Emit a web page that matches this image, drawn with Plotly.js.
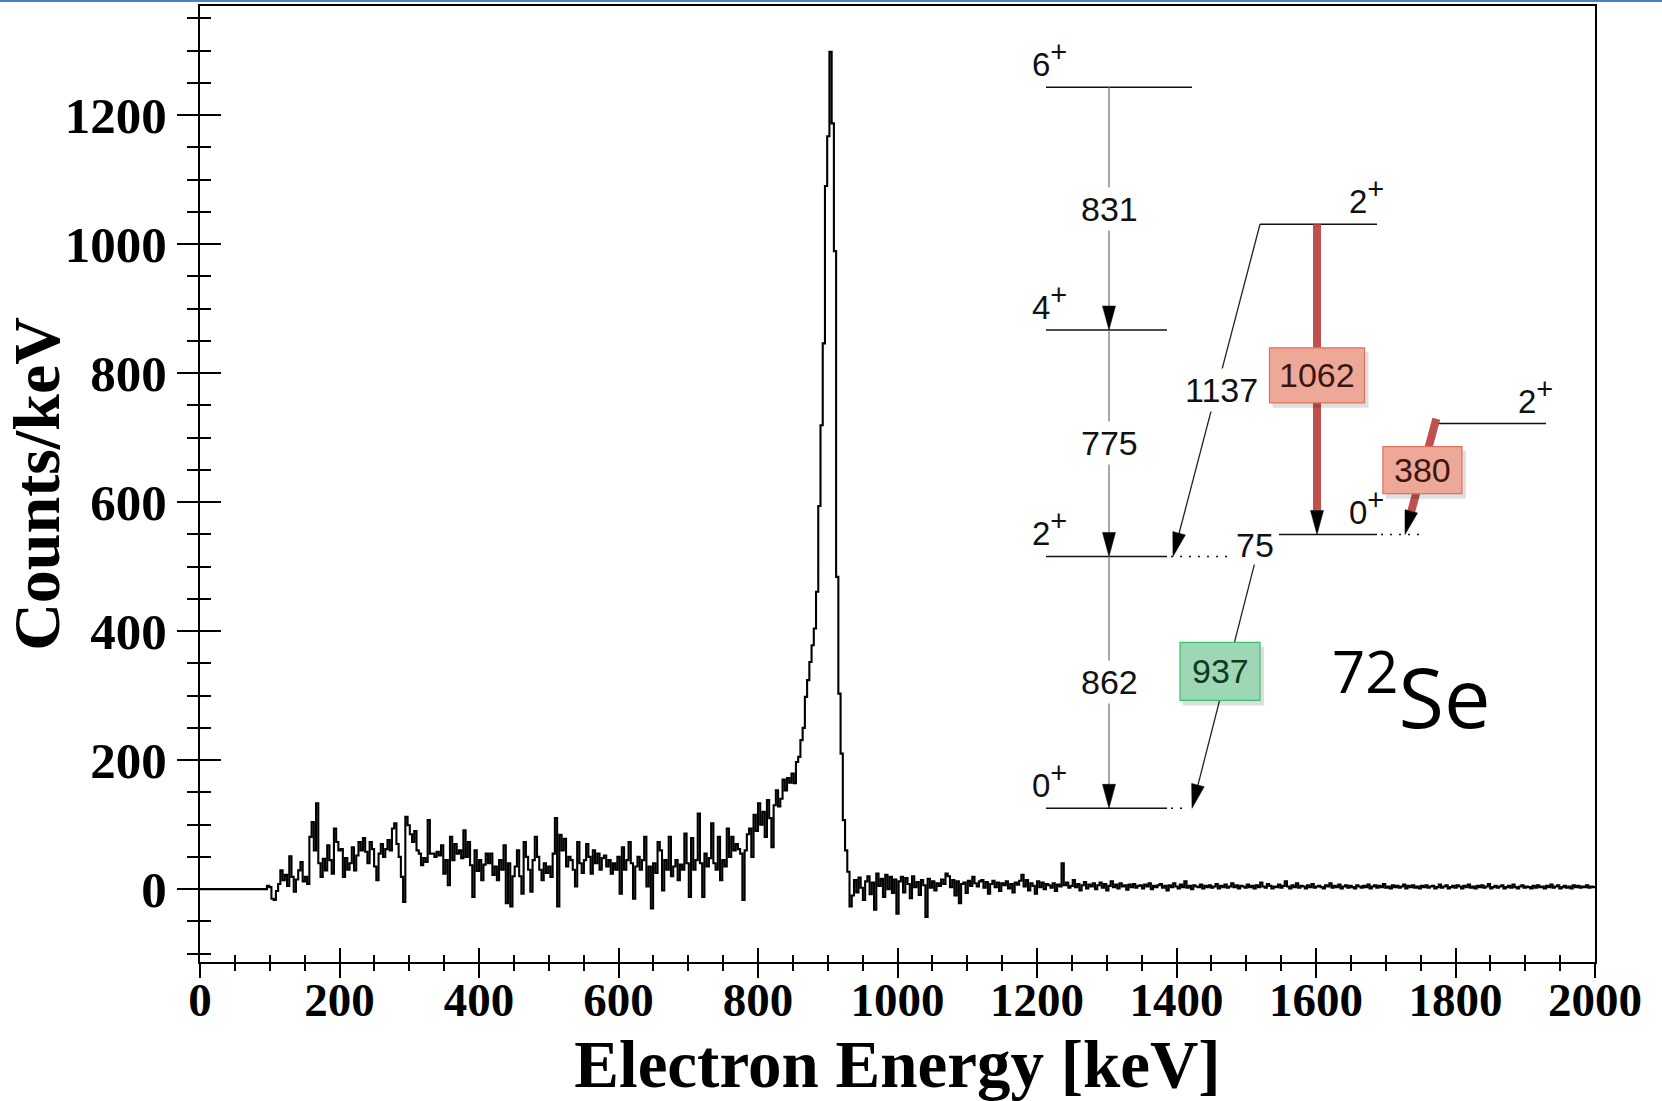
<!DOCTYPE html>
<html>
<head>
<meta charset="utf-8">
<script src="https://cdn.plot.ly/plotly-3.0.1.min.js"></script>
<style>
  html, body { margin: 0; padding: 0; background: #ffffff; }
  #chart { width: 1662px; height: 1101px; }
  #topline { position: absolute; left: 0; top: 0; width: 1662px; height: 2px; background: #4f81bd; z-index: 10; }
</style>
</head>
<body>
<div id="topline"></div>
<div id="chart"></div>
<script>
// ---------------- DATA ----------------
// Histogram: bin width in keV, counts per bin (Counts/keV)
const binWidth = 3.2;

// 0 - 96 keV (below threshold)
const countsBelowThreshold = [0,0,0,0,0,0,0,0,0,0,0,0,0,0,0,0,0,0,0,0,0,0,0,0,0,0,0,0,0,0];

// 96 - 784 keV
const countsPlateau = [
  5, 3, -15, -17, -3, 8, 29, 14, 22, 5,
  51, 19, -4, 15, 29, 42, 12, 19, 8, 81,
  104, 60, 133, 40, 19, 47, 29, 68, 45, 24,
  94, 73, 60, 62, 19, 48, 30, 40, 65, 29,
  52, 73, 60, 79, 58, 40, 73, 62, 35, 14,
  55, 70, 50, 62, 76, 60, 94, 102, 70, 50,
  19, -20, 112, 99, 85, 73, 90, 60, 55, 37,
  48, 42, 107, 55, 55, 50, 58, 52, 68, 24,
  45, 6, 81, 45, 70, 55, 60, 48, 91, 50,
  73, 37, -12, 60, 28, 45, 14, 38, 55, 40,
  55, 22, 35, 14, 45, 30, 68, -22, 40, -27,
  20, 35, 60, 20, -7, 73, 50, 30, -4, 45,
  81, 50, 30, 14, 40, 25, 35, 19, 55, 110,
  -27, 84, 60, 78, 35, 50, 45, 30, 4, 73,
  40, 25, 45, 70, 50, 24, 60, 40, 55, 30,
  48, 52, 35, 45, 24, 40, 30, 50, -7, 65,
  30, 45, 73, 40, -15, 35, 50, 30, 45, 81,
  4, 35, -30, 40, 25, 73, 60, -2, 45, 30,
  81, 20, 35, 45, 14, 38, 30, 86, 40, -12,
  79, 30, 45, 117, 40, -12, 55, 35, 48, 102,
  40, 30, 81, 14, 45, 35, 94, 50, 81, 60,
  70, 62, 55, -17, 60
];

// 784 - 934.4 keV (rise and main peak)
const countsPeak = [
  85, 94, 50, 115, 90, 133, 100, 120, 81, 138,
  110, 65, 130, 153, 128, 140, 170, 153, 172, 165,
  179, 164, 197, 205, 231, 250, 298, 324, 352, 378,
  404, 461, 594, 719, 846, 1090, 1167, 1298, 1187, 989,
  484, 303, 210, 107, 60, 27, -27
];

// 934.4 - 2000 keV
const countsTail = [
  -10, 14, -5, 18, 2, -17, 12, 20, -8, 10,
  -32, 24, 5, 16, -12, 22, 0, 19, -6, 15,
  -38, 12, 19, -5, 17, 8, -14, 20, 3, 11,
  -9, 14, 6, -43, 16, 2, 12, -2, 9, 5,
  15, 8, 24, 20, 3, 14, -10, 12, -22, 8,
  10, -6, 13, 5, 19, 9, 4, 12, 14, 2,
  11, -7, 8, 13, 3, 10, -3, 9, 6, 12,
  1, 8, -5, 10, 7, 13, 22, 4, 14, -2,
  9, 5, -7, 12, 3, 10, 0, 8, 6, 2,
  9, -3, 7, 4, 40, 6, 10, 2, 5, 14,
  3, 8, -2, 6, 11, 1, 7, 4, 9, 0,
  6, 10, 2, 8, -2, 5, 12, 3, 7, 1,
  9, 4, 6, -1, 7, 3, 8, 2, 5, 6,
  1, 7, 4, 9, 0, 5, 3, 6, 8, 2,
  5, -2, 6, 3, 9, 4, 1, 7, 3, 12,
  2, 5, 0, 6, 4, 3, 7, 1, 5, 3,
  6, 2, 4, 8, 1, 5, 3, 7, 2, 4,
  9, 3, 6, 1, 5, 4, 2, 7, 3, 5,
  1, 6, 3, 10, 4, 2, 8, 5, 1, 4,
  3, 7, 2, 5, 12, 4, 1, 6, 3, 9,
  2, 5, 4, 1, 6, 3, 8, 2, 4, 5,
  3, 1, 6, 4, 9, 2, 5, 3, 7, 1,
  4, 6, 2, 5, 3, 1, 6, 4, 2, 5,
  3, 7, 1, 4, 6, 2, 5, 3, 8, 2,
  4, 1, 6, 3, 5, 2, 4, 7, 1, 5,
  3, 6, 2, 4, 1, 5, 3, 6, 2, 4,
  5, 1, 3, 7, 2, 4, 6, 1, 3, 5,
  2, 6, 4, 1, 5, 3, 7, 2, 4, 1,
  5, 3, 6, 2, 4, 8, 1, 3, 5, 2,
  4, 6, 1, 3, 5, 2, 7, 3, 1, 4,
  6, 2, 4, 3, 1, 5, 2, 6, 3, 4,
  1, 5, 3, 7, 2, 4, 6, 1, 3, 5,
  2, 4, 1, 6, 3, 5, 2, 4, 3, 6,
  2, 4, 3
];

// Axis tick values
const xTickVals = [0, 200, 400, 600, 800, 1000, 1200, 1400, 1600, 1800, 2000];
const yTickVals = [0, 200, 400, 600, 800, 1000, 1200];

// Level scheme of 72Se (keV)
const levelSpin   = ['0', '2', '4', '6', '0', '2', '2'];
const levelEnergy = [0, 862, 1637, 2468, 937, 1317, 1999];
const transFrom   = [3, 2, 1, 6, 6, 5, 4, 4];
const transTo     = [2, 1, 0, 1, 4, 4, 0, 1];
const transLabel  = ['831', '775', '862', '1137', '1062', '380', '937', '75'];
const nucleusMass = '72';
const nucleusSymbol = 'Se';

// ---------------- BUILD HISTOGRAM ----------------
const counts = countsBelowThreshold.concat(countsPlateau, countsPeak, countsTail);
const xs = counts.map((c, i) => i * binWidth);
const ys = counts.slice();
xs.push(counts.length * binWidth);
ys.push(counts[counts.length - 1]);

// ---------------- LAYOUT GEOMETRY ----------------
const W = 1662, H = 1101;
const M = { l: 200, r: 67, t: 6, b: 139 };
const PLOT = { left: M.l, width: W - M.l - M.r, top: M.t, height: H - M.t - M.b };
const E_TOP = 2746, E_BOT = -526;          // diagram energy axis (y3)
const pxPerKeV = PLOT.height / (E_TOP - E_BOT);
const px2paper = px => (px - PLOT.left) / PLOT.width;
const pyOfE = E => PLOT.top + (E_TOP - E) * pxPerKeV;
const EofPy = py => E_TOP - (py - PLOT.top) / pxPerKeV;

// diagram placement (pixels) and styles
const levelGeom = [
  { x0: 1046, x1: 1167, dotFrom: 1171, dotTo: 1188, labX: 1030 },
  { x0: 1046, x1: 1167, dotFrom: 1171, dotTo: 1230, labX: 1030 },
  { x0: 1046, x1: 1167, labX: 1030 },
  { x0: 1046, x1: 1192, labX: 1030 },
  { x0: 1279, x1: 1377, dotFrom: 1381, dotTo: 1424, labX: 1347 },
  { x0: 1437, x1: 1546, labX: 1516 },
  { x0: 1260, x1: 1377, labX: 1347 }
];
const RED = '#C0504D';
const redBox = { fill: '#EEA898', line: '#E0705C', text: '#3d1510' };
const greenBox = { fill: '#9DD7B3', line: '#3DBE6C', text: '#0d3b20' };
const transGeom = [
  { xTop: 1109, xBot: 1109, kind: 'thin', color: '#777777', frac: 0.5 },
  { xTop: 1109, xBot: 1109, kind: 'thin', color: '#777777', frac: 0.5 },
  { xTop: 1109, xBot: 1109, kind: 'thin', color: '#777777', frac: 0.5 },
  { xTop: 1260, xBot: 1173, kind: 'thin', color: '#222222', frac: 0.5, labDx: 5 },
  { xTop: 1317, xBot: 1317, kind: 'thick', frac: 0.487, box: { w: 95, h: 55, s: redBox } },
  { xTop: 1435, xBot: 1405, kind: 'thick', frac: 0.42, over: 5, box: { w: 79, h: 47, s: redBox } },
  { xTop: 1262, xBot: 1192, kind: 'thin', color: '#222222', frac: 0.5, labDx: -7, box: { w: 80, h: 58, s: greenBox } },
  { kind: 'label', px: 1255, py: 545 }
];
const ARROW_LEN = 24, ARROW_HALF = 6.5;
const diagFont = { family: 'Liberation Sans, Arial, sans-serif', size: 34, color: '#111111' };

const shapes = [];
const annotations = [];

function P(x, y) { return px2paper(x).toFixed(5) + ',' + EofPy(y).toFixed(3); }
function lineShape(xa, ya, xb, yb, color, width, dash) {
  return { type: 'line', xref: 'paper', yref: 'y3',
    x0: px2paper(xa), y0: EofPy(ya), x1: px2paper(xb), y1: EofPy(yb),
    line: { color: color, width: width, dash: dash || 'solid' }, layer: 'above' };
}

// levels
levelEnergy.forEach((E, i) => {
  const g = levelGeom[i];
  const py = pyOfE(E);
  shapes.push(lineShape(g.x0, py, g.x1, py, '#111111', 1.6));
  if (g.dotTo) shapes.push(lineShape(g.dotFrom, py, g.dotTo, py, '#111111', 1.6, '2px,7px'));
  annotations.push({ xref: 'paper', yref: 'y3', x: px2paper(g.labX), y: E,
    xanchor: 'left', yanchor: 'bottom', yshift: 2, showarrow: false,
    text: levelSpin[i] + '<sup><span style="font-size:29px">+</span></sup>',
    font: { family: diagFont.family, size: 33, color: '#111111' } });
});

// transitions
const boxShapes = [];
transLabel.forEach((lab, t) => {
  const g = transGeom[t];
  const yTop = pyOfE(levelEnergy[transFrom[t]]);
  const yBot = pyOfE(levelEnergy[transTo[t]]);
  if (g.kind === 'label') {
    annotations.push({ xref: 'paper', yref: 'y3', x: px2paper(g.px), y: EofPy(g.py),
      xanchor: 'center', yanchor: 'middle',
      showarrow: false, text: lab, font: diagFont, bgcolor: '#ffffff', borderpad: 0 });
    return;
  }
  const dx = g.xBot - g.xTop, dy = yBot - yTop;
  const L = Math.sqrt(dx * dx + dy * dy);
  const ux = dx / L, uy = dy / L;
  const bx = g.xBot - ux * ARROW_LEN, by = yBot - uy * ARROW_LEN;
  if (g.kind === 'thick') {
    const over = g.over || 0;
    shapes.push(lineShape(g.xTop - ux * over, yTop - uy * over, bx, by, RED, 8));
  } else {
    shapes.push(lineShape(g.xTop, yTop, bx, by, g.color, 1.3));
  }
  // arrow head
  const px1 = bx - uy * ARROW_HALF, py1 = by + ux * ARROW_HALF;
  const px2 = bx + uy * ARROW_HALF, py2 = by - ux * ARROW_HALF;
  shapes.push({ type: 'path', xref: 'paper', yref: 'y3',
    path: 'M' + P(g.xBot, yBot) + 'L' + P(px1, py1) + 'L' + P(px2, py2) + 'Z',
    fillcolor: '#000000', line: { color: '#000000', width: 0.5 }, layer: 'above' });
  // label
  const cx = g.xTop + dx * g.frac + (g.labDx || 0), cy = yTop + dy * g.frac;
  if (g.box) {
    const b = g.box;
    boxShapes.push({ type: 'rect', xref: 'paper', yref: 'y3',
      x0: px2paper(cx - b.w / 2 + 3), x1: px2paper(cx + b.w / 2 + 4),
      y0: EofPy(cy - b.h / 2 + 4), y1: EofPy(cy + b.h / 2 + 5),
      fillcolor: 'rgba(0,0,0,0.13)', line: { width: 0 }, layer: 'above' });
    boxShapes.push({ type: 'rect', xref: 'paper', yref: 'y3',
      x0: px2paper(cx - b.w / 2), x1: px2paper(cx + b.w / 2),
      y0: EofPy(cy - b.h / 2), y1: EofPy(cy + b.h / 2),
      fillcolor: b.s.fill, line: { color: b.s.line, width: 1.2 }, layer: 'above' });
    annotations.push({ xref: 'paper', yref: 'y3', x: px2paper(cx), y: EofPy(cy),
      xanchor: 'center', yanchor: 'middle',
      showarrow: false, text: lab,
      font: { family: diagFont.family, size: 34, color: b.s.text } });
  } else {
    annotations.push({ xref: 'paper', yref: 'y3', x: px2paper(cx), y: EofPy(cy),
      xanchor: 'center', yanchor: 'middle',
      showarrow: false, text: lab, font: diagFont, bgcolor: '#ffffff', borderpad: 2 });
  }
});

// nucleus label
annotations.push({ xref: 'paper', yref: 'y3', x: px2paper(1330), y: EofPy(754),
  xanchor: 'left', yanchor: 'bottom', showarrow: false,
  text: '<sup>' + nucleusMass + '</sup>' + nucleusSymbol,
  font: { family: 'Open Sans, Noto Sans, sans-serif', size: 83, color: '#000000' } });

// ---------------- PLOT ----------------
const axisFont = { family: 'Liberation Serif, Times New Roman, serif', color: '#000000', weight: 'bold' };

const traces = [
  { type: 'scatter', mode: 'lines', x: xs, y: ys,
    line: { color: '#000000', width: 2.1, shape: 'hv', simplify: false },
    hoverinfo: 'x+y', showlegend: false },
  { type: 'scatter', mode: 'lines', x: [null], y: [null], xaxis: 'x2', yaxis: 'y2', showlegend: false, hoverinfo: 'skip' },
  { type: 'scatter', mode: 'lines', x: [null], y: [null], xaxis: 'x', yaxis: 'y3', showlegend: false, hoverinfo: 'skip' }
];

const xRange = [0, 2000];
const yRange = [-113, 1369];

const layout = {
  width: W, height: H,
  margin: M,
  paper_bgcolor: '#ffffff', plot_bgcolor: '#ffffff',
  showlegend: false,
  xaxis: {
    range: xRange, autorange: false,
    tickmode: 'array', tickvals: xTickVals, ticktext: xTickVals.map(String),
    ticks: 'outside', ticklen: 14, tickwidth: 2, tickcolor: '#000',
    minor: { ticks: 'outside', ticklen: 7, tickwidth: 2, dtick: 50, tick0: 0, tickcolor: '#000', showgrid: false },
    showline: true, linewidth: 2, linecolor: '#000', mirror: true,
    showgrid: false, zeroline: false,
    tickfont: Object.assign({ size: 47 }, axisFont),
    ticklabelstandoff: -18,
    title: { text: 'Electron Energy [keV]', font: Object.assign({ size: 67 }, axisFont), standoff: 28 },
    automargin: false
  },
  xaxis2: {
    overlaying: 'x', anchor: 'y', side: 'bottom',
    range: xRange, autorange: false,
    tickmode: 'array', tickvals: xTickVals,
    ticks: 'inside', ticklen: 14, tickwidth: 2, tickcolor: '#000',
    minor: { ticks: 'inside', ticklen: 7, tickwidth: 2, dtick: 50, tick0: 0, tickcolor: '#000', showgrid: false },
    showticklabels: false, showline: false, showgrid: false, zeroline: false
  },
  yaxis: {
    range: yRange, autorange: false,
    tickmode: 'array', tickvals: yTickVals, ticktext: yTickVals.map(String),
    ticks: 'outside', ticklen: 21, tickwidth: 2, tickcolor: '#000',
    minor: { ticks: 'outside', ticklen: 11, tickwidth: 2, dtick: 50, tick0: 0, tickcolor: '#000', showgrid: false },
    showline: true, linewidth: 2, linecolor: '#000', mirror: true,
    showgrid: false, zeroline: false,
    tickfont: Object.assign({ size: 51 }, axisFont),
    ticklabelstandoff: 0,
    title: { text: 'Counts/keV', font: Object.assign({ size: 66 }, axisFont), standoff: 8 },
    automargin: false
  },
  yaxis2: {
    overlaying: 'y', anchor: 'x', side: 'left',
    range: yRange, autorange: false,
    tickmode: 'array', tickvals: yTickVals,
    ticks: 'inside', ticklen: 21, tickwidth: 2, tickcolor: '#000',
    minor: { ticks: 'inside', ticklen: 11, tickwidth: 2, dtick: 50, tick0: 0, tickcolor: '#000', showgrid: false },
    showticklabels: false, showline: false, showgrid: false, zeroline: false
  },
  yaxis3: {
    overlaying: 'y', anchor: 'x', side: 'right',
    range: [E_BOT, E_TOP], autorange: false, visible: false,
    showgrid: false, zeroline: false
  },
  shapes: shapes.concat(boxShapes),
  annotations: annotations
};

Plotly.newPlot('chart', traces, layout, { displayModeBar: false, staticPlot: true });
</script>
</body>
</html>
